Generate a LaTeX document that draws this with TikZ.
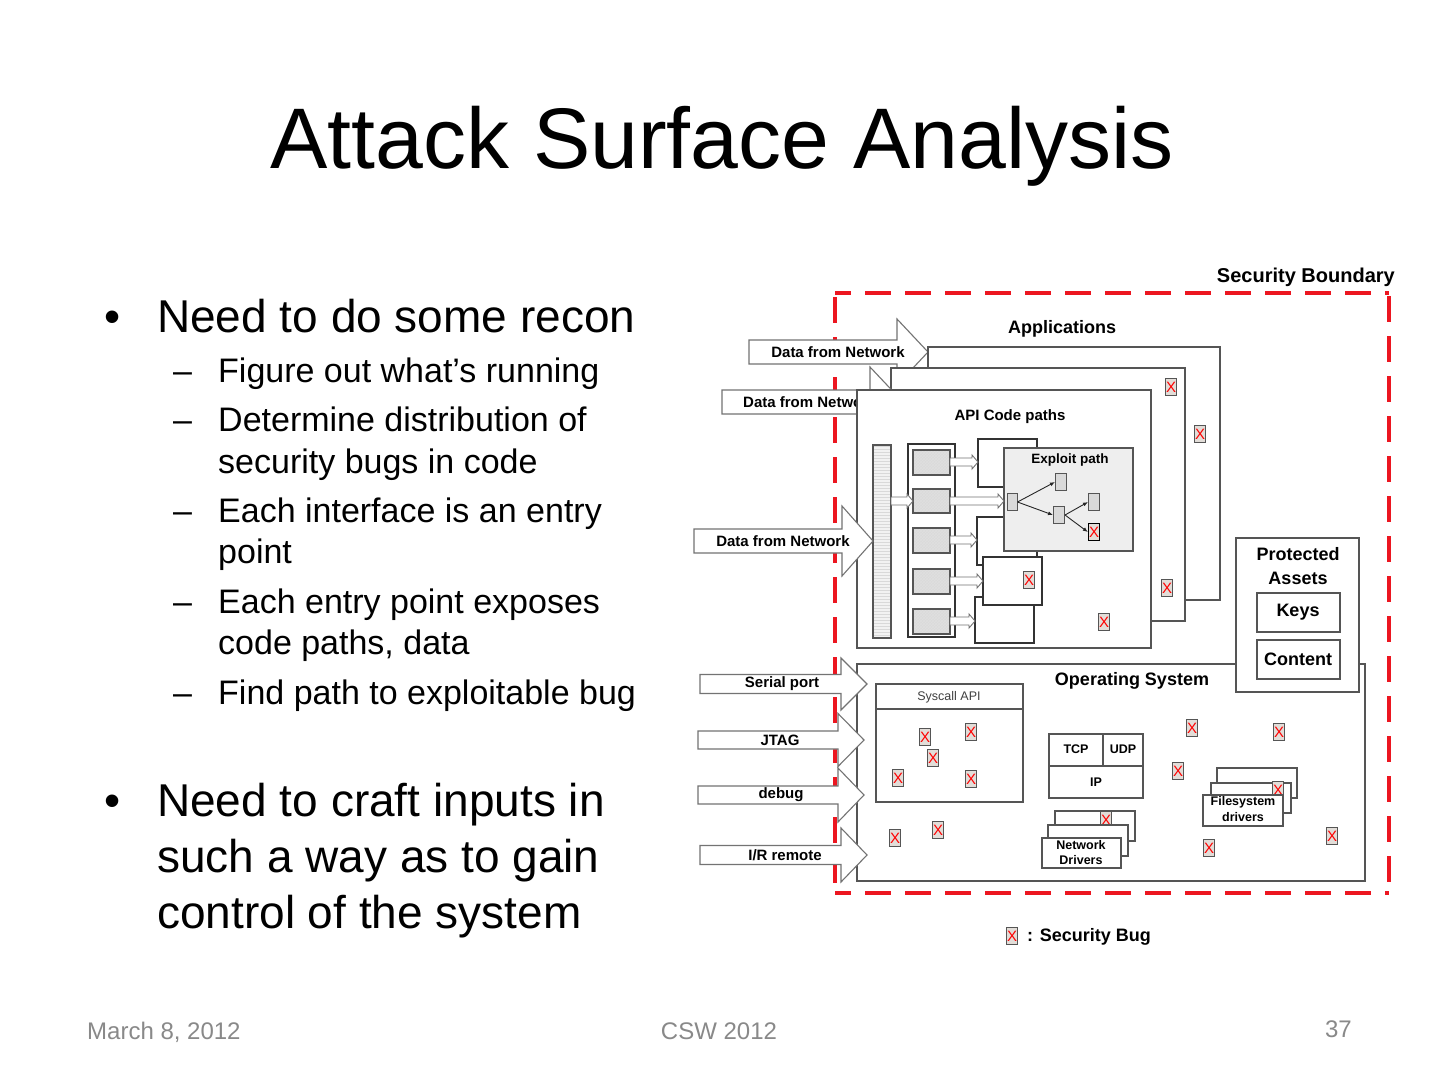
\documentclass[tikz,border=0pt]{standalone}
\usepackage{fontspec}
\setmainfont{Liberation Sans}
\usetikzlibrary{patterns,arrows.meta}
\definecolor{bdr}{RGB}{85,85,85}
\definecolor{abdr}{RGB}{115,115,115}
\definecolor{bugfill}{RGB}{226,221,216}
\definecolor{secred}{RGB}{236,22,32}
\definecolor{foot}{RGB}{137,137,137}
\definecolor{cellgray}{RGB}{218,218,218}
\definecolor{exfill}{RGB}{238,238,238}
\newcommand\fs[1]{\fontsize{#1}{#1}\selectfont}
\newcommand\blockarrow[6]{\draw[blk] (#1,#4-#5) -- (#2,#4-#5) -- (#2,#4-#6) -- (#3,#4) -- (#2,#4+#6) -- (#2,#4+#5) -- (#1,#4+#5) -- cycle;}
\newcommand\hollowarrow[3]{\draw[blk, line width=0.9] (#1,#3-4) -- (#2-6,#3-4) -- (#2-6,#3-7) -- (#2,#3) -- (#2-6,#3+7) -- (#2-6,#3+4) -- (#1,#3+4) -- cycle;}
\tikzset{
  box/.style={draw=bdr, fill=white, line width=1.3},
  blk/.style={draw=abdr, fill=white, line width=1.1},
  bug/.style={draw=bdr, fill=bugfill, line width=1.1, minimum width=11, minimum height=17, inner sep=0, text=red, font=\fs{15}},
  exnode/.style={draw=bdr, fill=gray!30, line width=1, minimum width=11, minimum height=17, inner sep=0},
  lbl/.style={font=\bfseries\fs{15}, inner sep=0},
  small/.style={font=\bfseries\fs{12.5}, inner sep=0},
  hdr/.style={font=\bfseries\fs{18}, inner sep=0},
  big/.style={font=\fs{46}, inner sep=0, anchor=base west},
  sub/.style={font=\fs{34}, inner sep=0, anchor=base west},
  foottxt/.style={font=\fs{24}, text=foot, inner sep=0},
  exarrow/.style={-{Latex[length=5,width=4]}, line width=0.9, draw=black!85},
  secline/.style={secred, line width=3.6, dash pattern=on 26 off 14}
}
\begin{document}
\begin{tikzpicture}[x=1pt,y=-1pt]
\fill[white] (0,0) rectangle (1440,1080);
\useasboundingbox (0,0) rectangle (1440,1080);

% title
\node[font=\fs{86}, inner sep=0, anchor=base west] (title) at (270,168) {Attack Surface Analysis};

% bullets
\node[big, anchor=base] (b1) at (113,332) {•};
\node[big] (t1) at (157,332) {Need to do some recon};
\node[sub] (d1) at (173,382) {–};
\node[sub] (s1) at (218,382) {Figure out what’s running};
\node[sub] (d2) at (173,431) {–};
\node[sub] (s2) at (218,431) {Determine distribution of};
\node[sub] (s2b) at (218,473) {security bugs in code};
\node[sub] (d3) at (173,522) {–};
\node[sub] (s3) at (218,522) {Each interface is an entry};
\node[sub] (s3b) at (218,563) {point};
\node[sub] (d4) at (173,613) {–};
\node[sub] (s4) at (218,613) {Each entry point exposes};
\node[sub] (s4b) at (218,654) {code paths, data};
\node[sub] (d5) at (173,704) {–};
\node[sub] (s5) at (218,704) {Find path to exploitable bug};
\node[big, anchor=base] (b2) at (113,816) {•};
\node[big] (t2) at (157,816) {Need to craft inputs in};
\node[big] (t2b) at (157,872) {such a way as to gain};
\node[big] (t2c) at (157,928) {control of the system};

% footer
\node[foottxt, anchor=base west] (date) at (87,1039) {March 8, 2012};
\node[foottxt, anchor=base] (conf) at (719,1039) {CSW 2012};
\node[foottxt, anchor=base east] (page) at (1352,1037) {37};

% security boundary (behind the entry arrows)
\coordinate (sbtl) at (835,293);
\coordinate (sbtr) at (1389,293);
\coordinate (sbbl) at (835,893);
\coordinate (sbbr) at (1389,893);
\draw[secline, dash phase=10] (sbtl) -- (sbtr);
\draw[secline, dash phase=10] (sbbl) -- (sbbr);
\draw[secline, dash phase=36] (sbtl) -- (sbbl);
\draw[secline, dash phase=37] (sbtr) -- (sbbr);
\node[font=\bfseries\fs{20}, inner sep=0, anchor=east] (sb) at (1395,277) {Security Boundary};
\node[hdr] (apps) at (1062,329) {Applications};

% ---------- applications ----------
\blockarrow{749}{897}{928}{352}{12}{33}
\node[lbl] (a1) at (838,352) {Data from Network};
\draw[box] (928,347) rectangle (1220,600);
\node[bug] (bug1) at (1200,434) {X};
\draw[box] (891,368) rectangle (1185,621);
\node[bug] (bug2) at (1171,387) {X};
\node[bug] (bug3) at (1167,588) {X};
\blockarrow{722}{870}{903}{402}{12}{35}
\node[lbl, anchor=west] (a2) at (743,402) {Data from Network};
\draw[box] (857,390) rectangle (1151,648);
\node[lbl] (api) at (1010,417) {API Code paths};
\node[bug] (bug4) at (1104,622) {X};

% hatched bar
\fill[gray!10] (873,445) rectangle (891,638);
\fill[pattern=horizontal lines, pattern color=gray!30] (873,445) rectangle (891,638);
\draw[bdr, line width=1.1] (873,445) rectangle (891,638);
% column of cells
\draw[line width=1.1, draw=black!80] (908,444) rectangle (955,637);
\foreach \ya/\yb in {450/475, 489/513, 528/553, 569/594, 609/634}{
  \fill[cellgray] (913,\ya) rectangle (950,\yb);
  \fill[pattern=crosshatch, pattern color=gray!25] (913,\ya) rectangle (950,\yb);
  \draw[bdr, line width=1.1] (913,\ya) rectangle (950,\yb);
}
\hollowarrow{891}{913}{501}

% code path boxes
\draw[box, draw=black!80, line width=1.1] (978,439) rectangle (1037,487);
\draw[box, draw=black!80, line width=1.1] (977,517) rectangle (1037,565);
\draw[box, draw=black!80, line width=1.1] (975,597) rectangle (1034,643);
\draw[box, draw=black!80, line width=1.1] (983,557) rectangle (1042,605);
\node[bug] (bug5) at (1029,580) {X};
\draw[box, fill=exfill, line width=1.3] (1004,448) rectangle (1133,551);
\node[font=\bfseries\fs{13.5}, inner sep=0] (expl) at (1070,460) {Exploit path};

\hollowarrow{950}{978}{462}
\hollowarrow{950}{1004}{501}
\hollowarrow{950}{977}{540}
\hollowarrow{950}{983}{581}
\hollowarrow{950}{975}{621}

\node[exnode, minimum width=10] (n0) at (1012,502) {};
\node[exnode] (n1) at (1061,482) {};
\node[exnode] (n2) at (1059,515) {};
\node[exnode] (n3) at (1094,502) {};
\node[bug, draw=black, line width=1.3] (n4) at (1094,532) {X};
\draw[exarrow] (n0.east) -- (n1.west);
\draw[exarrow] (n0.east) -- (n2.west);
\draw[exarrow] (n2.east) -- (n3.west);
\draw[exarrow] (n2.east) -- (n4.west);

\blockarrow{694}{842}{873}{541}{12}{35}
\node[lbl] (a3) at (783,541) {Data from Network};

% ---------- operating system ----------
\draw[box] (857,664) rectangle (1365,881);
\node[hdr] (os) at (1132,681) {Operating System};

% protected assets
\draw[box] (1236,538) rectangle (1359,692);
\node[hdr] (prot) at (1298,554) {Protected};
\node[hdr] (assets) at (1298,578) {Assets};
\draw[box] (1257,593) rectangle (1340,632);
\node[hdr] (keys) at (1298,612) {Keys};
\draw[box] (1257,640) rectangle (1340,679);
\node[hdr] (content) at (1298,659) {Content};

% syscall
\draw[box] (876,684) rectangle (1023,802);
\draw[bdr, line width=1.3] (876,709) -- (1023,709);
\node[font=\fs{12.5}, inner sep=0, text=black!75] (sys) at (949,697) {Syscall API};
\node[bug] (s1b) at (925,737) {X};
\node[bug] (s2b) at (971,732) {X};
\node[bug] (s3b) at (933,758) {X};
\node[bug] (s4b) at (898,778) {X};
\node[bug] (s5b) at (971,779) {X};
\node[bug] (o1) at (895,838) {X};
\node[bug] (o2) at (938,830) {X};

% tcp/ip
\draw[box] (1049,734) rectangle (1143,798);
\draw[bdr, line width=1.3] (1049,766) -- (1143,766);
\draw[bdr, line width=1.3] (1103,734) -- (1103,766);
\node[small] (tcp) at (1076,749) {TCP};
\node[small] (udp) at (1123,749) {UDP};
\node[small] (ip) at (1096,782) {IP};

\node[bug] (o3) at (1192,728) {X};
\node[bug] (o4) at (1279,732) {X};
\node[bug] (o5) at (1178,771) {X};
\node[bug] (o6) at (1332,836) {X};
\node[bug] (o7) at (1209,848) {X};

% filesystem drivers
\draw[box] (1217,768) rectangle (1297,798);
\draw[box] (1211,783) rectangle (1291,813);
\node[bug] (o8) at (1278,790) {X};
\draw[box] (1203,795) rectangle (1283,826);
\node[small] (fs1) at (1243,802) {Filesystem};
\node[small] (fs2) at (1243,817) {drivers};

% network drivers
\draw[box] (1055,811) rectangle (1135,841);
\node[bug] (o9) at (1106,820) {X};
\draw[box] (1048,825) rectangle (1128,856);
\draw[box] (1042,838) rectangle (1121,868);
\node[small] (nd1) at (1081,845) {Network};
\node[small] (nd2) at (1081,860) {Drivers};

% OS entry arrows
\blockarrow{700}{841}{867}{684}{9.5}{26}
\node[lbl] (serial) at (782,684) {Serial port};
\blockarrow{698}{838}{864}{740}{9}{26.5}
\node[lbl] (jtag) at (780,740) {JTAG};
\blockarrow{698}{838}{864}{795}{9}{27}
\node[lbl] (debug) at (781,795) {debug};
\blockarrow{700}{841}{867}{855}{9.5}{27}
\node[lbl] (ir) at (785,855) {I/R remote};

% legend
\node[bug] (leg) at (1012,936) {X};
\node[hdr, anchor=west] (legt) at (1027,937) {: Security Bug};
\end{tikzpicture}
\end{document}
